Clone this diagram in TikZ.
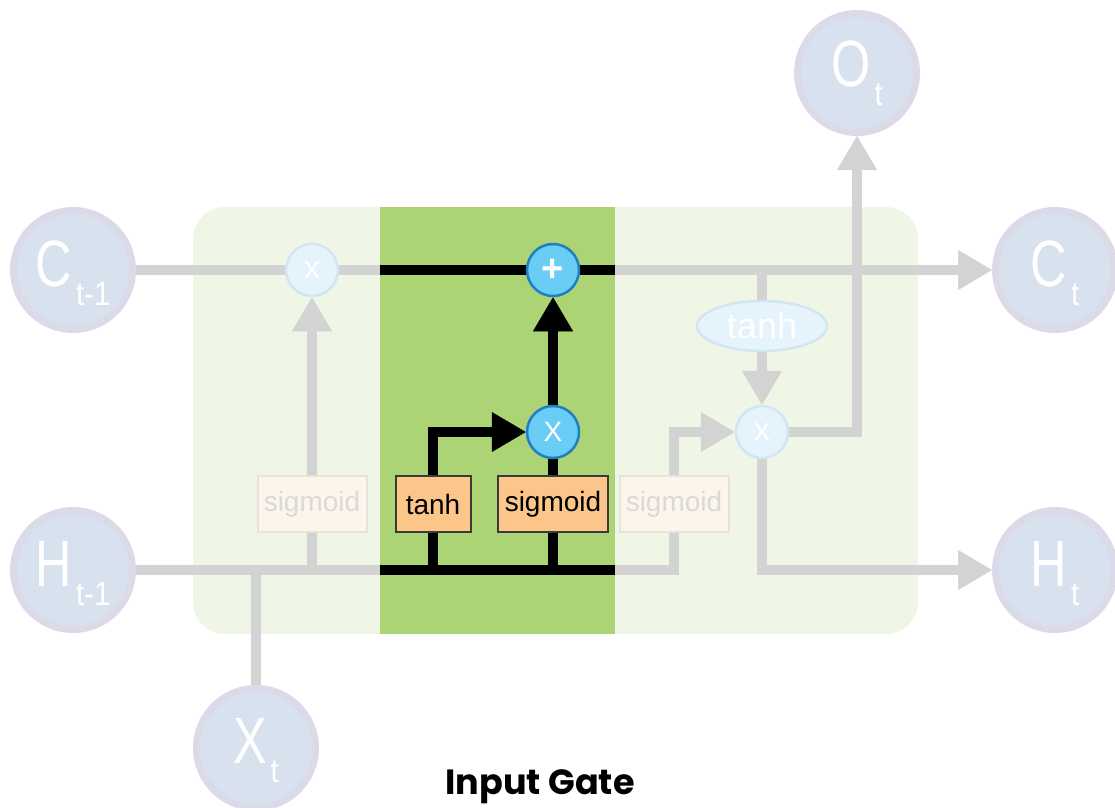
\documentclass[tikz,border=0pt]{standalone}
\usepackage{fontspec}
\usepackage{graphicx}
\setmainfont{Liberation Sans}
\newfontfamily\titlefont{Poppins}
\usetikzlibrary{arrows.meta,shapes.geometric}

\pgfdeclarelayer{back}
\pgfdeclarelayer{wires}
\pgfsetlayers{back,wires,main}

\definecolor{cellbg}{HTML}{F0F6E6}
\definecolor{gatebg}{HTML}{ACD374}
\definecolor{wirecol}{HTML}{D3D3D3}
\definecolor{varfill}{HTML}{D7E2EE}
\definecolor{varedge}{HTML}{DCDAE8}
\definecolor{opfill}{HTML}{E5F4FC}
\definecolor{opedge}{HTML}{D2E6F2}
\definecolor{actfill}{HTML}{6ACDF5}
\definecolor{actedge}{HTML}{1F7FC4}
\definecolor{boxfill}{HTML}{FCC68A}
\definecolor{boxedge}{HTML}{3A3A3A}
\definecolor{dimfill}{HTML}{FEF5EA}
\definecolor{dimedge}{HTML}{E6E3DF}
\definecolor{dimtext}{HTML}{D9D9D9}

% state variable label: big letter with a lowered time index
\newcommand{\varlabel}[2]{\scalebox{0.8}[1.04]{\fontsize{63pt}{63pt}\selectfont #1}\kern 4pt\raisebox{-19.5pt}{\scalebox{0.95}[1.08]{\fontsize{31pt}{31pt}\selectfont #2}}}

\tikzset{
  varnode/.style={circle, minimum size=119pt, inner sep=0pt, line width=7pt, draw=varedge, fill=varfill},
  varlbl/.style={anchor=base, inner sep=0pt, text=white},
  opnode/.style={circle, minimum size=52pt, inner sep=0pt, line width=2.5pt, draw=opedge, fill=opfill, text=white, font=\fontsize{32pt}{32pt}\selectfont},
  actnode/.style={circle, minimum size=52pt, inner sep=0pt, line width=2.5pt, draw=actedge, fill=actfill, text=white},
  gatebox/.style={rectangle, minimum height=56pt, inner sep=0pt, line width=2pt, draw=boxedge, fill=boxfill, text=black, font=\fontsize{28pt}{28pt}\selectfont},
  dimbox/.style={rectangle, minimum height=56pt, minimum width=109pt, inner sep=0pt, line width=2pt, draw=dimedge, fill=dimfill, text=dimtext, font=\fontsize{28pt}{28pt}\selectfont},
  opoval/.style={ellipse, minimum width=130pt, minimum height=50pt, inner sep=0pt, line width=2.5pt, draw=opedge, fill=opfill, text=white, font=\fontsize{36pt}{36pt}\selectfont},
  wire/.style={line width=10pt, draw=wirecol},
  bwire/.style={line width=10pt, draw=black},
  tip/.style={-{Triangle[width=40pt, length=34pt, line width=0.5pt]}},
  title/.style={anchor=base, inner sep=0pt, font=\titlefont\bfseries\fontsize{35pt}{35pt}\selectfont}
}

\begin{document}
\begin{tikzpicture}[x=1pt, y=-1pt]
\useasboundingbox (0,0) rectangle (1115,807);

% cell body and highlighted input-gate band
\begin{pgfonlayer}{back}
  \fill[cellbg, rounded corners=32pt] (193,207) rectangle (918,634);
  \fill[gatebg] (380,207) rectangle (615,634);
\end{pgfonlayer}

% state variables
\node[varnode] (cprev) at (73,270) {};
\node[varlbl] (cprevl) at ([yshift=-16pt]cprev.center) {\varlabel{C}{t-1}};
\node[varnode] (hprev) at (73,570) {};
\node[varlbl] (hprevl) at ([yshift=-16pt]hprev.center) {\varlabel{H}{t-1}};
\node[varnode] (xt) at (256,748) {};
\node[varlbl] (xtl) at ([yshift=-15pt]xt.center) {\varlabel{X}{t}};
\node[varnode] (ot) at (857,73) {};
\node[varlbl] (otl) at ([yshift=-13pt]ot.center) {\varlabel{O}{t}};
\node[varnode] (cnext) at (1055,270) {};
\node[varlbl] (cnextl) at ([yshift=-16pt]cnext.center) {\varlabel{C}{t}};
\node[varnode] (hnext) at (1055,570) {};
\node[varlbl] (hnextl) at ([yshift=-16pt]hnext.center) {\varlabel{H}{t}};

% forget gate (dimmed)
\node[opnode] (fmul) at (312,270) {x};
\node[dimbox] (fsig) at (312,504) {sigmoid};

% input gate
\node[gatebox, minimum width=75pt] (tanhg) at (433,504) {tanh};
\node[gatebox, minimum width=110pt] (sigg) at (553,504) {sigmoid};
\node[actnode, font=\fontsize{28pt}{28pt}\selectfont] (mulg) at (553,432) {X};
\node[actnode, font=\bfseries\fontsize{38pt}{38pt}\selectfont] (addg) at (553,270) {+};

% output gate (dimmed)
\node[dimbox] (osig) at (674,504) {sigmoid};
\node[opoval] (tanho) at (762,326) {tanh};
\node[opnode] (mulo) at (762,432) {x};

% junction points on the two horizontal rails
\coordinate (gl) at (380,270);
\coordinate (gr) at (615,270);
\coordinate (hl) at (380,570);
\coordinate (hr) at (615,570);
\coordinate (xbr) at (256,570);

\begin{pgfonlayer}{wires}
  % cell-state rail
  \draw[wire] (cprev) -- (fmul);
  \draw[wire] (fmul) -- (gl);
  \draw[bwire] (gl) -- (gr);
  \draw[wire, tip] (gr) -- (cnext);
  % hidden-state rail
  \draw[wire] (hprev) -- (hl);
  \draw[bwire] (hl) -- (hr);
  \draw[wire] (hr) -| (osig);
  \draw[wire] (xbr) -- (xt);
  % forget gate
  \draw[wire] (fsig) -- (fsig |- hl);
  \draw[wire, tip] (fsig) -- (fmul);
  % input gate
  \draw[bwire] (tanhg) -- (tanhg |- hl);
  \draw[bwire] (sigg) -- (sigg |- hl);
  \draw[bwire] (sigg) -- (mulg);
  \draw[bwire, tip] (tanhg) |- (mulg);
  \draw[bwire, tip] (mulg) -- (addg);
  % output gate
  \draw[wire] (tanho.north |- gr) -- (tanho);
  \draw[wire, tip] (tanho) -- (mulo);
  \draw[wire, tip] (osig) |- (mulo);
  \draw[wire, tip] (mulo) -| (ot);
  \draw[wire, tip] (mulo) |- (hnext);
\end{pgfonlayer}

\node[title] (ttl) at (540,794) {Input Gate};
\end{tikzpicture}
\end{document}
